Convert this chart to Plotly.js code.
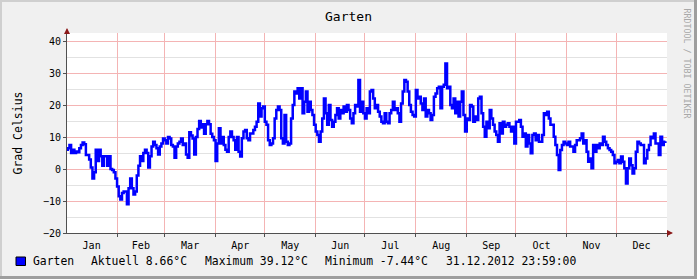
<!DOCTYPE html>
<html>
<head>
<meta charset="utf-8">
<script src="https://cdn.plot.ly/plotly-3.0.1.min.js"></script>
<style>
html,body{margin:0;padding:0;background:#f0f0f0;}
#chart{width:697px;height:279px;}
</style>
</head>
<body>
<div id="chart"></div>
<script>
// Daily temperature values for "Garten", 2012, starting 1 Jan 2012
const startDate = '2012-01-01';
const temps = [
  6, 6.5, 7.5, 5, 6, 5, 5.5, 5.2, 6.5, 7.5,
  8.3, 7.7, 4.4, 4.4, 3, 0.5, -3, -1, 6, 2.5,
  6, 4, 1, 4, 4, 1, 4, 0, -0.3, -1,
  -3, -5.5, -8.5, -9.5, -7.5, -7, -7, -11, -6, -3,
  -6, -8, -7, -2, 1, 4, 2.5, 5, 6, 5,
  0.5, 4, 7, 8.5, 7.5, 6.5, 4.5, 7, 8, 9.5,
  9, 8, 10, 9.5, 7.5, 7, 3.5, 7, 8, 8.5,
  9.5, 7.5, 8, 4.5, 3.5, 11.5, 10.5, 9.5, 4.5, 10,
  12.5, 15, 13, 14, 11, 14, 15, 14, 11, 10,
  9, 2.5, 8, 12.7, 8, 10, 7.5, 6, 5.4, 10,
  11.7, 10, 9, 6, 10, 5.4, 3.9, 9.6, 11.7, 12.2,
  9.6, 9, 11.1, 11.1, 12.2, 13.2, 14.8, 20.5, 16.4, 19,
  19.5, 14.8, 13.8, 9, 7.5, 8, 9.6, 15.8, 18.4, 19.5,
  18.4, 9.6, 8, 16.9, 8.5, 7.5, 8, 15.8, 20, 24.2,
  23.6, 25.2, 22, 25.2, 17.4, 21, 24.2, 17.9, 21, 18.4,
  16.9, 13.8, 11.7, 10.6, 8.5, 11.7, 15.8, 22, 17.4, 13.8,
  20, 15.3, 13.2, 14.8, 16.9, 19, 15.8, 18.4, 17.4, 19.5,
  17.9, 20, 18.4, 15.8, 14.3, 17.4, 20, 19.5, 27.8, 17.9,
  21, 17.4, 15.8, 19, 17.4, 24.2, 24.7, 22, 19, 20,
  17.9, 16.4, 14.8, 14.3, 17.4, 14.8, 14.3, 17.4, 18.4, 21,
  18.4, 19, 17.4, 14.8, 20.5, 24.2, 27.8, 27.3, 24.2, 20,
  17.9, 16.9, 16.4, 24.7, 22, 22.6, 20.5, 18.4, 22, 16.4,
  18.4, 17.4, 15.3, 16.9, 22.6, 23.6, 25.2, 25.7, 19, 25.7,
  26.3, 33, 25.2, 25.7, 20, 19, 22, 17.4, 21, 16.4,
  21, 24.2, 16.9, 11.7, 15.8, 15.3, 20, 19.5, 14.8, 16.4,
  15.3, 22, 22.6, 17.4, 13.2, 10.1, 14.8, 12.7, 18.4, 15.8,
  13.8, 11.7, 10.6, 8.5, 14.3, 11.1, 14.8, 13.2, 13.8, 14.3,
  13.2, 11.7, 13.2, 8, 14.8, 14.8, 15.3, 13.2, 10.1, 11.1,
  7, 10.6, 8, 4.9, 10.6, 11.1, 9, 10.6, 8.5, 8.5,
  10.6, 17.4, 16.9, 17.9, 15.8, 13.8, 13.8, 10.1, 7.5, 4.4,
  -0.3, 5.9, 7.5, 8.5, 8, 7.5, 8.5, 7, 7, 5.4,
  7.5, 9, 9, 9.6, 11.1, 8, 9, 5.4, 2.3, 3.3,
  0.2, 7.5, 5.4, 7.5, 6.5, 8, 7.5, 10.1, 8.5, 7.5,
  6.5, 5.9, 5.4, 4.4, 1.8, 2.3, 2.8, 1.8, 3.9, 2.3,
  0.2, -4.5, 0.2, 3.3, 1.2, -1.4, 0.2, 5.4, 8.5, 8,
  7.5, 7.5, 1.8, 3.3, 5.9, 7.5, 10.1, 9.6, 11.1, 8,
  8, 4.4, 10.1, 7.5, 8.5, 8.66
];
const seriesName = 'Garten';
const chartTitle = 'Garten';
const yTitle = 'Grad Celsius';
const legendItems = ['Garten', 'Aktuell 8.66°C', 'Maximum 39.12°C', 'Minimum -7.44°C', '31.12.2012 23:59:00'];
const watermark = 'RRDTOOL / TOBI OETIKER';

const dates = [];
const d0 = new Date(startDate + 'T00:00:00Z');
for (let i = 0; i < temps.length; i++) {
  const d = new Date(d0.getTime() + i * 86400000);
  dates.push(d.toISOString().slice(0, 10));
}

const MONO = 'DejaVu Sans Mono, monospace';
const W = 697, H = 279, L = 67, R = 30, T = 33, B = 46;
const PW = W - L - R, PH = H - T - B;
const px = p => (p - L) / PW;          // pixel x -> paper x
const py = p => (H - B - p) / PH;      // pixel y -> paper y

const trace = {
  x: dates, y: temps, type: 'scatter', mode: 'lines', name: seriesName,
  line: {color: '#0000ff', width: 2.5, shape: 'hv'}, hoverinfo: 'skip'
};

const legendX = [31, 89, 203, 323, 444];
const annotations = legendItems.map((t, i) => ({
  text: t, xref: 'paper', yref: 'paper', x: px(legendX[i]), y: py(261),
  xanchor: 'left', yanchor: 'middle', showarrow: false,
  font: {family: MONO, size: 11.4, color: '#000'}
}));
annotations.push({
  text: watermark, xref: 'paper', yref: 'paper', x: px(686.5), y: py(63),
  xanchor: 'center', yanchor: 'middle', textangle: 90, showarrow: false,
  font: {family: MONO, size: 8.3, color: '#a8a8a8'}
});
// axis arrows
annotations.push({
  text: '', xref: 'paper', yref: 'paper', x: 0, y: 1, yshift: 5,
  showarrow: true, ax: 0, ay: 7, arrowhead: 2, arrowsize: 1, arrowwidth: 1.2, arrowcolor: '#8b1a1a'
});
annotations.push({
  text: '', xref: 'paper', yref: 'paper', x: 1, y: 0, xshift: 6,
  showarrow: true, ax: -7, ay: 0, arrowhead: 2, arrowsize: 1, arrowwidth: 1.2, arrowcolor: '#8b1a1a'
});

const shapes = [
  // legend colour box
  {type: 'rect', xref: 'paper', yref: 'paper', x0: px(16), x1: px(25.5), y0: py(265.5), y1: py(257),
   fillcolor: '#0000ff', line: {color: '#000', width: 1}},
  // frame shading
  {type: 'rect', xref: 'paper', yref: 'paper', x0: px(0), x1: px(697), y0: py(0), y1: py(2),
   fillcolor: '#cfcfcf', line: {width: 0}},
  {type: 'rect', xref: 'paper', yref: 'paper', x0: px(0), x1: px(2), y0: py(0), y1: py(279),
   fillcolor: '#cfcfcf', line: {width: 0}},
  {type: 'rect', xref: 'paper', yref: 'paper', x0: px(0), x1: px(697), y0: py(276), y1: py(279),
   fillcolor: '#9e9e9e', line: {width: 0}},
  {type: 'rect', xref: 'paper', yref: 'paper', x0: px(694), x1: px(697), y0: py(0), y1: py(279),
   fillcolor: '#9e9e9e', line: {width: 0}}
];

const layout = {
  width: W, height: H,
  margin: {l: L, r: R, t: T, b: B, pad: 0},
  paper_bgcolor: '#f0f0f0', plot_bgcolor: '#ffffff',
  showlegend: false,
  title: {text: chartTitle, x: 0.5, xref: 'container', xanchor: 'center',
          y: 1 - 16 / H, yref: 'container', yanchor: 'middle',
          font: {family: MONO, size: 13, color: '#000'}},
  xaxis: {
    type: 'date', range: ['2012-01-01 12:00', '2013-01-01'],
    dtick: 'M1', tick0: '2012-01-01', tickformat: '%b', ticklabelmode: 'period',
    showgrid: true, gridcolor: '#f4b4b4', gridwidth: 1,
    showline: true, linecolor: '#505050', linewidth: 1,
    ticks: 'outside', ticklen: 3, tickcolor: '#505050',
    tickfont: {family: MONO, size: 10, color: '#000'},
    zeroline: false, fixedrange: true
  },
  yaxis: {
    range: [-20, 42.5], tickmode: 'linear', tick0: -20, dtick: 10,
    showgrid: true, gridcolor: '#f4b4b4', gridwidth: 1,
    minor: {dtick: 5, showgrid: true, gridcolor: '#e2e2e2', gridwidth: 1},
    showline: true, linecolor: '#505050', linewidth: 1,
    ticks: 'outside', ticklen: 3, tickcolor: '#505050',
    tickfont: {family: MONO, size: 10, color: '#000'},
    zeroline: false, fixedrange: true,
    title: {text: yTitle, font: {family: MONO, size: 11.5, color: '#000'}, standoff: 17}
  },
  annotations: annotations,
  shapes: shapes
};

Plotly.newPlot('chart', [trace], layout, {displayModeBar: false, staticPlot: true});
</script>
</body>
</html>
